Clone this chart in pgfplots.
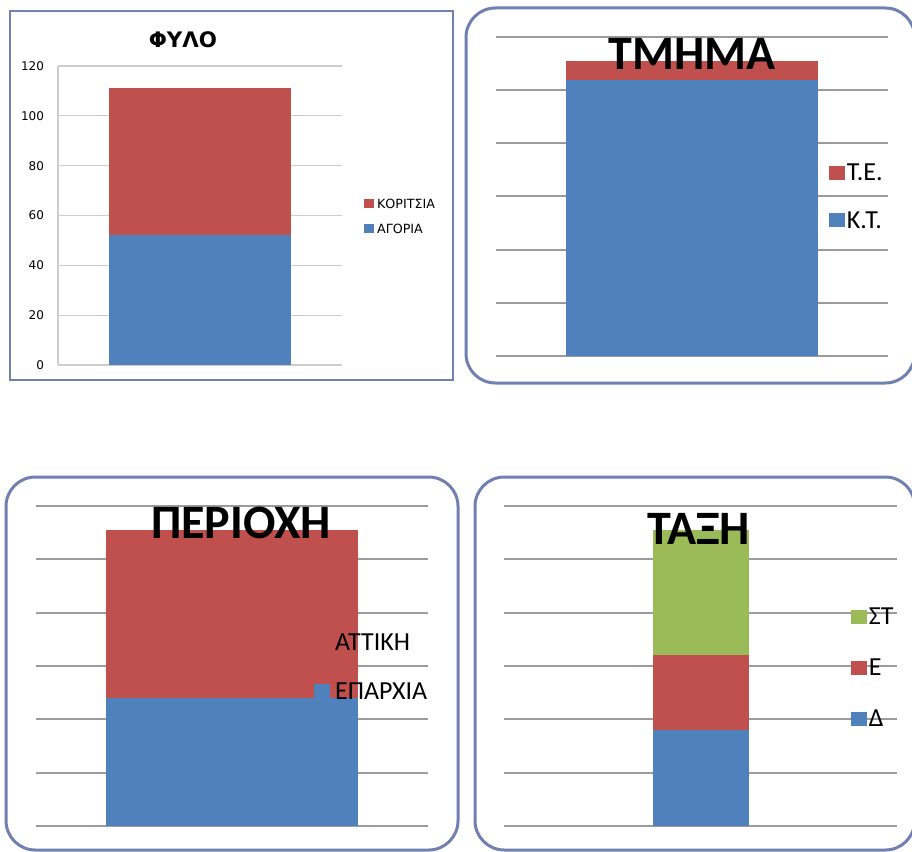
\documentclass[border=0pt]{standalone}
\usepackage{fontspec}
\setmainfont{Carlito}
\newfontfamily\dejavu{DejaVu Sans}
\usepackage{pgfplots}
\pgfplotsset{compat=1.18}

\definecolor{cblue}{HTML}{4F81BD}
\definecolor{cred}{HTML}{C0504D}
\definecolor{cgreen}{HTML}{9BBB59}
\definecolor{framec}{RGB}{112,128,176}
\definecolor{gridA}{RGB}{205,205,205}
\definecolor{gridB}{RGB}{155,155,155}

\pgfplotsset{
  panel/.style={
    scale only axis, anchor=south west,
    ybar stacked, ymin=0, ymax=120, ytick={0,20,...,120},
    xmin=0, xmax=2, xtick=\empty,
    ymajorgrids, tick style={draw=none},
    legend cell align=left, reverse legend,
    /pgf/number format/assume math mode=true,
  },
  big/.style={
    axis line style={draw=none}, yticklabels={},
    major grid style={gridB, line width=1.5pt},
    title style={font=\fontsize{36}{40}\selectfont\bfseries, anchor=base, yshift=0pt},
    legend style={draw=none, fill=none, anchor=west, inner sep=0pt,
      font=\fontsize{19.5}{22}\selectfont,
      nodes={inner sep=0pt, text height=13pt, text depth=0pt},
      /tikz/every odd column/.append style={column sep=1.5pt}},
    legend image code/.code={\fill[##1,draw=none] (0pt,-5.75pt) rectangle (11.75pt,4.75pt);},
  },
}

\begin{document}
\begin{tikzpicture}
\path[use as bounding box] (0pt,0pt) rectangle (684pt,638.25pt);

% frames
\draw[framec, line width=1.5pt] (7.5pt,353.25pt) rectangle (339.75pt,630pt);
\draw[framec, line width=2.25pt, rounded corners=22pt] (349.5pt,351pt) rectangle (686pt,632.25pt);
\draw[framec, line width=2.25pt, rounded corners=22pt] (4.5pt,0.75pt) rectangle (343.5pt,280.5pt);
\draw[framec, line width=2.25pt, rounded corners=22pt] (356.25pt,0.75pt) rectangle (686pt,280.5pt);

% ΦΥΛΟ
\begin{axis}[panel, at={(43.5pt,364.5pt)}, width=213pt, height=224.25pt,
  bar width=136.5pt,
  axis x line*=bottom, axis y line*=left,
  axis line style={gridA, line width=1pt},
  major grid style={gridA, line width=1pt},
  yticklabel style={font=\dejavu\fontsize{9}{10}\selectfont, xshift=-7pt},
  title={\dejavu\bfseries ΦΥΛΟ},
  title style={font=\fontsize{16}{18}\selectfont, anchor=base, yshift=0pt, at={(0.44,1.034)}},
  legend style={draw=none, fill=none, anchor=west, inner sep=0pt,
    at={(1.077,0.4967)}, font=\dejavu\fontsize{9.5}{11}\selectfont,
    nodes={inner sep=0pt, text height=7pt, text depth=0pt},
    /tikz/every odd column/.append style={column sep=2.25pt}, row sep=11.75pt},
  legend image code/.code={\fill[#1,draw=none] (0pt,-2.75pt) rectangle (7.5pt,3.5pt);},
]
\addplot[fill=cblue, draw=none] coordinates {(1,52)};
\addplot[fill=cred, draw=none] coordinates {(1,59)};
\legend{ΑΓΟΡΙΑ, ΚΟΡΙΤΣΙΑ}
\end{axis}

% ΤΜΗΜΑ
\begin{axis}[panel, big, at={(372pt,371.25pt)}, width=294pt, height=239.25pt,
  bar width=189pt,
  title={ΤΜΗΜΑ}, title style={at={(0.5,0.8716)}},
  legend style={at={(0.8495,0.5023)}, row sep=22.625pt},
]
\addplot[fill=cblue, draw=none] coordinates {(1,104)};
\addplot[fill=cred, draw=none] coordinates {(1,7)};
\legend{Κ.Τ., Τ.Ε.}
\end{axis}

% ΠΕΡΙΟΧΗ
\begin{axis}[panel, big, at={(27pt,18.75pt)}, width=294pt, height=240pt,
  bar width=189pt,
  title={ΠΕΡΙΟΧΗ}, title style={at={(0.523,0.872)}},
  legend style={at={(0.709,0.4988)}, row sep=23.375pt,
    /tikz/every odd column/.append style={column sep=4pt}},
]
\addplot[fill=cblue, draw=none] coordinates {(1,48)};
\addplot[fill=cred, draw=none] coordinates {(1,63)};
\legend{ΕΠΑΡΧΙΑ, ΑΤΤΙΚΗ}
\end{axis}

% ΤΑΞΗ
\begin{axis}[panel, big, at={(378pt,18.75pt)}, width=294.75pt, height=240pt,
  bar width=72pt,
  title={ΤΑΞΗ}, title style={at={(0.495,0.856)}},
  legend style={at={(0.883,0.4968)}, row sep=25.275pt},
]
\addplot[fill=cblue, draw=none] coordinates {(1,36)};
\addplot[fill=cred, draw=none] coordinates {(1,28)};
\addplot[fill=cgreen, draw=none] coordinates {(1,47)};
\legend{Δ, Ε, ΣΤ}
\end{axis}
\end{tikzpicture}
\end{document}
